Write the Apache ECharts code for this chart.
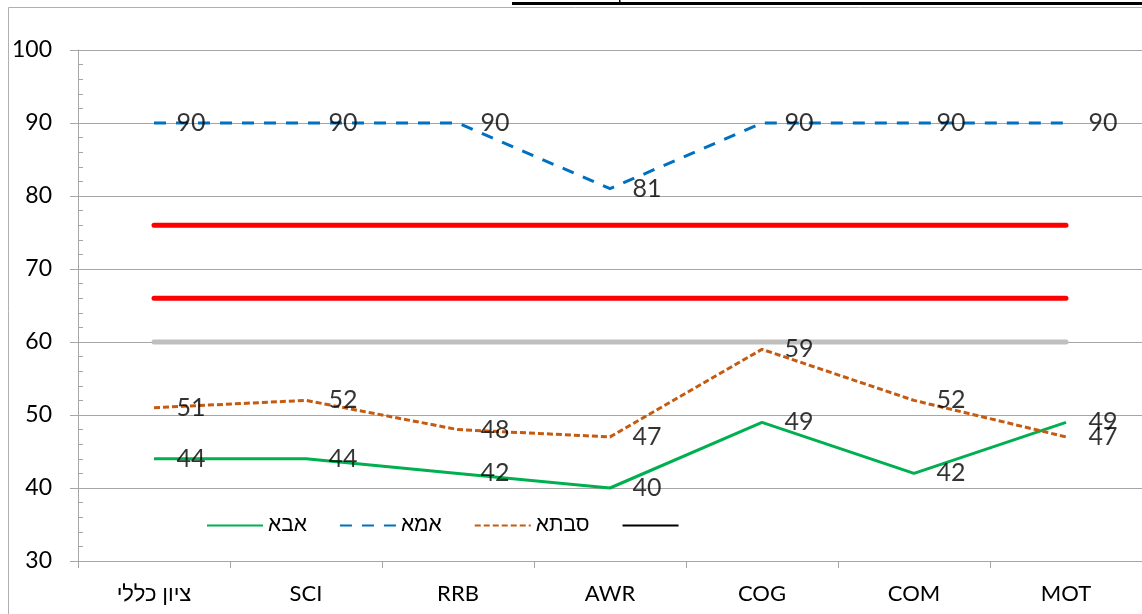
<!DOCTYPE html>
<html>
<head>
<meta charset="utf-8">
<script src="https://cdn.jsdelivr.net/npm/echarts@6/dist/echarts.min.js"></script>
<style>
html,body{margin:0;padding:0;background:#fff;}
#chart{width:1142px;height:614px;}
</style>
</head>
<body>
<div id="chart"></div>
<script>
const categories = ['ציון כללי', 'SCI', 'RRB', 'AWR', 'COG', 'COM', 'MOT'];
const abaValues = [44, 44, 42, 40, 49, 42, 49];
const imaValues = [90, 90, 90, 81, 90, 90, 90];
const savtaValues = [51, 52, 48, 47, 59, 52, 47];
const redHigh = [76, 76, 76, 76, 76, 76, 76];
const redLow = [66, 66, 66, 66, 66, 66, 66];
const grayRef = [60, 60, 60, 60, 60, 60, 60];
const blackValues = [null, null, null, null, null, null, null];
const seriesNames = ['אבא', 'אמא', 'סבתא', ' '];
const yTicks = { min: 30, max: 100, interval: 10 };

const FONT = "Lato, 'Liberation Sans', 'DejaVu Sans', sans-serif";
const GRID_COLOR = '#a6a6a6';

const chart = echarts.init(document.getElementById('chart'), null, { renderer: 'canvas' });

function labelSeries(values) {
  return {
    type: 'scatter',
    data: values,
    symbol: 'circle',
    symbolSize: 1,
    silent: true,
    itemStyle: { color: 'transparent' },
    label: {
      show: true,
      position: 'right',
      distance: 22,
      color: '#000',
      fontSize: 25,
      fontFamily: FONT
    },
    z: 6
  };
}

function refLine(data, color) {
  return {
    type: 'line',
    data: data,
    symbol: 'none',
    silent: true,
    lineStyle: { color: color, width: 5, cap: 'round' },
    z: 2
  };
}

const option = {
  animation: false,
  backgroundColor: '#fff',
  textStyle: { fontFamily: FONT },
  grid: { left: 78, top: 50, bottom: 53, right: -11, containLabel: false },
  legend: {
    data: seriesNames,
    left: 206,
    top: 515,
    padding: 0,
    itemWidth: 56,
    itemHeight: 14,
    itemGap: 32,
    itemStyle: { opacity: 0 },
    textStyle: { fontSize: 21, color: '#000', fontFamily: "'Liberation Sans', 'DejaVu Sans', sans-serif" }
  },
  xAxis: {
    type: 'category',
    data: categories,
    boundaryGap: true,
    axisLine: { lineStyle: { color: GRID_COLOR, width: 1 } },
    axisTick: { show: true, length: 7, lineStyle: { color: GRID_COLOR } },
    axisLabel: { color: '#000', fontSize: 22, fontFamily: FONT, margin: 22 },
    splitLine: { show: false }
  },
  yAxis: [
    {
      type: 'value',
      min: yTicks.min,
      max: yTicks.max,
      interval: yTicks.interval,
      axisLine: { show: true, lineStyle: { color: GRID_COLOR } },
      axisTick: { show: true, length: 8, lineStyle: { color: GRID_COLOR } },
      axisLabel: { color: '#000', fontSize: 23, fontFamily: FONT, margin: 26 },
      splitLine: { show: true, lineStyle: { color: GRID_COLOR, width: 1 } }
    },
    {
      type: 'value',
      position: 'left',
      min: yTicks.min,
      max: yTicks.max,
      interval: yTicks.interval,
      axisLine: { show: false },
      axisTick: { show: false, inside: true },
      minorTick: { show: true, splitNumber: 5, length: 5, lineStyle: { color: GRID_COLOR } },
      axisLabel: { show: false },
      splitLine: { show: false }
    }
  ],
  graphic: [
    { type: 'rect', shape: { x: 8.5, y: 7.5, width: 1200, height: 700 }, style: { fill: 'none', stroke: '#b0b0b0', lineWidth: 1 }, silent: true },
    { type: 'rect', shape: { x: 512, y: 2, width: 640, height: 3 }, style: { fill: '#000' }, silent: true },
    { type: 'rect', shape: { x: 619, y: 0, width: 1.5, height: 3 }, style: { fill: '#000' }, silent: true }
  ],
  series: [
    {
      name: seriesNames[0],
      type: 'line',
      data: abaValues,
      symbol: 'none',
      lineStyle: { color: '#00b050', width: 3 },
      itemStyle: { color: '#00b050' },
      z: 4
    },
    {
      name: seriesNames[1],
      type: 'line',
      data: imaValues,
      symbol: 'none',
      lineStyle: { color: '#0070c0', width: 3, type: [12, 10] },
      itemStyle: { color: '#0070c0' },
      z: 4
    },
    {
      name: seriesNames[2],
      type: 'line',
      data: savtaValues,
      symbol: 'none',
      lineStyle: { color: '#c55a11', width: 3, type: [6, 3] },
      itemStyle: { color: '#c55a11' },
      z: 4
    },
    {
      name: seriesNames[3],
      type: 'line',
      data: blackValues,
      symbol: 'none',
      lineStyle: { color: '#000', width: 3 },
      itemStyle: { color: '#000' },
      z: 4
    },
    refLine(redHigh, '#ff0000'),
    refLine(redLow, '#ff0000'),
    refLine(grayRef, '#bfbfbf'),
    labelSeries(abaValues),
    labelSeries(imaValues),
    labelSeries(savtaValues)
  ]
};

chart.setOption(option);
</script>
</body>
</html>
